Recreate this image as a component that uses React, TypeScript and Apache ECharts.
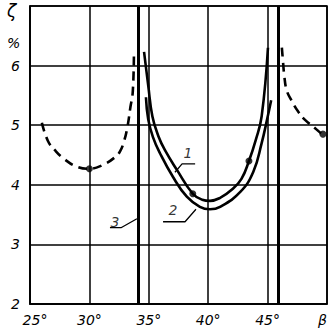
import React, { useEffect, useRef } from "react";
import * as echarts from "echarts";

// Axis ticks
const xTicks = [25, 30, 35, 40, 45, 50];
const xTickLabels = ["25°", "30°", "35°", "40°", "45°", "β"];
const yTicks = [2, 3, 4, 5, 6];

// Curve 1 (inner solid)
const curve1: [number, number][] = [
  [34.6, 6.23], [34.95, 5.67], [35.3, 5.15], [35.8, 4.82], [36.36, 4.58],
  [37.37, 4.25], [38.7, 3.85], [39.5, 3.75], [40.15, 3.73], [41.0, 3.78],
  [42.0, 3.92], [42.8, 4.1], [43.43, 4.4], [44.0, 4.75], [44.5, 5.15],
  [45.03, 6.3],
];
// Curve 2 (outer solid)
const curve2: [number, number][] = [
  [34.76, 5.47], [34.95, 5.1], [35.35, 4.8], [35.94, 4.53], [37.04, 4.13],
  [38.2, 3.8], [39.3, 3.63], [40.15, 3.59], [41.0, 3.63], [42.7, 3.88],
  [43.8, 4.22], [44.5, 4.7], [44.95, 5.09], [45.3, 5.42],
];
// Curve 3 (dashed), left and right branches
const curve3Left: [number, number][] = [
  [26.0, 5.04], [26.5, 4.74], [27.1, 4.58], [27.9, 4.43], [29.0, 4.3],
  [30.0, 4.27], [31.1, 4.33], [32.2, 4.47], [32.6, 4.57], [32.9, 4.72],
  [33.2, 4.97], [33.45, 5.3], [33.65, 5.56], [33.75, 6.23],
];
const curve3Right: [number, number][] = [
  [46.2, 6.3], [46.3, 6.06], [46.4, 5.84], [46.6, 5.59], [47.0, 5.42],
  [47.6, 5.22], [48.15, 5.09], [49.0, 4.95], [49.6, 4.85], [50, 4.82],
];
// Measured points
const dots: [number, number][] = [
  [30, 4.27], [38.7, 3.85], [43.43, 4.4], [49.66, 4.85],
];
// Asymptote (thick vertical) lines
const asymptotes = [34.15, 45.9];

// Curve labels and leader lines
const labels: { text: string; at: [number, number] }[] = [
  { text: "1", at: [38.3, 4.53] },
  { text: "2", at: [37.04, 3.58] },
  { text: "3", at: [32.15, 3.38] },
];
const leader1: [number, number][] = [[37.2, 4.21], [37.8, 4.35], [38.9, 4.35]];
const leader2: [number, number][] = [[36.2, 3.38], [38.05, 3.38], [38.97, 3.59]];
const leader3: [number, number][] = [[31.73, 3.28], [32.66, 3.28], [34.0, 3.43]];

const FONT = "DejaVu Sans";

export default function App() {
  const ref = useRef<HTMLDivElement>(null);
  useEffect(() => {
    if (!ref.current) return;
    const chart = echarts.init(ref.current, undefined, { renderer: "svg" });
    const solid = (data: [number, number][], w = 2.6) => ({
      type: "line",
      data,
      smooth: 0.45,
      showSymbol: false,
      symbol: "none",
      lineStyle: { color: "#000", width: w },
      silent: true,
    });
    const leaderSeries = (data: [number, number][]) => ({
      type: "line",
      data,
      showSymbol: false,
      symbol: "none",
      lineStyle: { color: "#000", width: 1.3 },
      silent: true,
    });
    chart.setOption({
      animation: false,
      backgroundColor: "#fff",
      grid: {
        left: 30,
        right: 8,
        top: 6,
        bottom: 28,
        show: true,
        borderColor: "#000",
        borderWidth: 1.6,
      },
      xAxis: {
        type: "value",
        min: 25,
        max: 50,
        interval: 5,
        axisLine: { show: true, lineStyle: { color: "#000", width: 1.6 } },
        axisTick: { show: false },
        splitLine: { show: true, lineStyle: { color: "#000", width: 1.5 } },
        axisLabel: {
          margin: 9,
          color: "#000",
          fontFamily: FONT,
          fontStyle: "italic",
          fontSize: 14,
          alignMaxLabel: "right",
          formatter: (v: number) => {
            const i = xTicks.indexOf(v);
            const t = i >= 0 ? xTickLabels[i] : "";
            return v === 25 ? "{a|" + t + "}" : t;
          },
          rich: {
            a: {
              padding: [0, 0, 0, 10],
              fontFamily: FONT,
              fontStyle: "italic",
              fontSize: 14,
              color: "#000",
            },
          },
        },
      },
      yAxis: {
        type: "value",
        min: 2,
        max: 7,
        interval: 1,
        axisLine: { show: true, lineStyle: { color: "#000", width: 1.6 } },
        axisTick: { show: false },
        splitLine: { show: true, lineStyle: { color: "#000", width: 1.5 } },
        axisLabel: {
          margin: 10,
          color: "#000",
          fontFamily: FONT,
          fontStyle: "italic",
          fontSize: 14,
          formatter: (v: number) => (yTicks.indexOf(v) >= 0 ? String(v) : ""),
        },
      },
      graphic: [
        {
          type: "text",
          left: 7,
          top: 2,
          style: {
            text: "ζ",
            font: `italic 17px "${FONT}"`,
            fill: "#000",
          },
        },
        {
          type: "text",
          left: 7,
          top: 36,
          style: {
            text: "%",
            font: `italic 14px "${FONT}"`,
            fill: "#000",
          },
        },
      ],
      series: [
        {
          type: "line",
          data: [],
          markLine: {
            silent: true,
            symbol: "none",
            label: { show: false },
            lineStyle: { color: "#000", width: 3, type: "solid" },
            data: asymptotes.map((x) => ({ xAxis: x })),
          },
        },
        solid(curve1),
        solid(curve2),
        {
          ...solid(curve3Left, 2.6),
          lineStyle: { color: "#000", width: 2.6, type: [9, 6] },
        },
        {
          ...solid(curve3Right, 2.6),
          lineStyle: { color: "#000", width: 2.6, type: [9, 6] },
        },
        leaderSeries(leader1),
        leaderSeries(leader2),
        leaderSeries(leader3),
        {
          type: "scatter",
          data: dots,
          symbol: "circle",
          symbolSize: 7,
          itemStyle: { color: "#000" },
          silent: true,
        },
        {
          type: "scatter",
          data: labels.map((l) => ({ value: l.at, name: l.text })),
          symbolSize: 0,
          silent: true,
          label: {
            show: true,
            position: "inside",
            formatter: (p: any) => p.name,
            color: "#000",
            fontFamily: FONT,
            fontStyle: "italic",
            fontSize: 14,
          },
        },
      ],
    });
    return () => chart.dispose();
  }, []);
  return (
    <div
      ref={ref}
      style={{ position: "fixed", left: 0, top: 0, width: 335, height: 332 }}
    />
  );
}
